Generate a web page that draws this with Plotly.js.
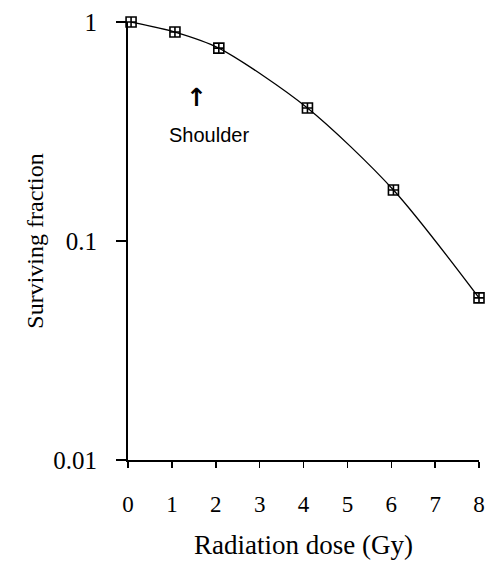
<!DOCTYPE html>
<html>
<head>
<meta charset="utf-8">
<script src="https://cdn.plot.ly/plotly-3.0.1.min.js"></script>
<style>html,body{margin:0;padding:0;background:#fff;}#chart{width:489px;height:571px;}</style>
</head>
<body>
<div id="chart"></div>
<script>
const doseGy = [0.07, 1.07, 2.07, 4.09, 6.05, 8.0];
const survivingFraction = [1.0, 0.90, 0.76, 0.405, 0.171, 0.055];
const xTickVals = [0, 1, 2, 3, 4, 5, 6, 7, 8];
const yTickVals = [0.01, 0.1, 1];
const yTickText = ['0.01', '0.1', '1'];

const serif = 'Liberation Serif, Times New Roman, serif';

const trace = {
  x: doseGy,
  y: survivingFraction,
  type: 'scatter',
  mode: 'lines+markers',
  line: {color: '#000', width: 1.3, shape: 'spline', smoothing: 0.8},
  marker: {symbol: 'square-cross-open', size: 10, color: '#000', line: {width: 1.6, color: '#000'}},
  cliponaxis: false,
  showlegend: false
};

const layout = {
  width: 489, height: 571,
  margin: {l: 128, r: 10, t: 22, b: 111},
  paper_bgcolor: '#fff', plot_bgcolor: '#fff',
  showlegend: false,
  xaxis: {
    range: [0, 8], tickvals: xTickVals, ticks: 'outside', ticklen: 6, tickwidth: 1.5, tickcolor: '#000',
    showline: true, linecolor: '#000', linewidth: 2, showgrid: false, zeroline: false,
    tickfont: {family: serif, size: 23, color: '#000'}, ticklabelstandoff: 16,
    title: {text: 'Radiation dose (Gy)', font: {family: serif, size: 27, color: '#000'}, standoff: 20}
  },
  yaxis: {
    type: 'log', range: [-2, 0], tickvals: yTickVals, ticktext: yTickText,
    ticks: 'outside', ticklen: 10, tickwidth: 1.5, tickcolor: '#000',
    showline: true, linecolor: '#000', linewidth: 2, showgrid: false, zeroline: false,
    tickfont: {family: serif, size: 25, color: '#000'}, ticklabelstandoff: 14,
    title: {text: 'Surviving fraction', font: {family: serif, size: 24, color: '#000'}, standoff: 3}
  },
  annotations: [
    {x: 1.57, y: Math.log10(0.45), xref: 'x', yref: 'y', text: '↑', showarrow: false,
     font: {family: 'DejaVu Sans, sans-serif', size: 25, weight: 'bold', color: '#000'}},
    {x: 1.84, y: Math.log10(0.305), xref: 'x', yref: 'y', text: 'Shoulder', showarrow: false,
     font: {family: 'Liberation Sans, Arial, sans-serif', size: 20, color: '#000'}}
  ]
};

Plotly.newPlot('chart', [trace], layout, {displayModeBar: false, staticPlot: true});
</script>
</body>
</html>
